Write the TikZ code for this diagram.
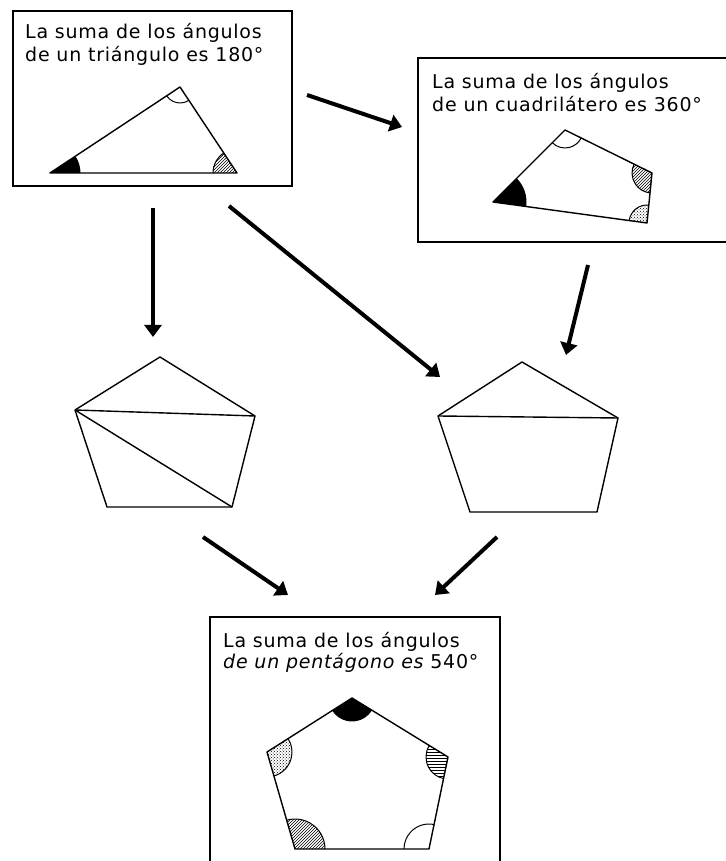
\documentclass[tikz,border=0pt]{standalone}
\usepackage{fontspec}
\setmainfont{DejaVu Sans}[LetterSpace=4]
\usetikzlibrary{shapes,arrows.meta,angles,patterns}

\tikzset{
  boxline/.style={line width=1.6pt},
  poly/.style={line width=1.4pt, line join=round},
  flow/.style={line width=4pt, -{Triangle[length=12pt,width=17pt]}},
  caption/.style={anchor=base west, inner sep=0pt, font=\fontsize{19}{22}\selectfont},
  anglemark/.style={line width=1pt},
}

\begin{document}
\begin{tikzpicture}[x=1pt,y=1pt]
\useasboundingbox (0,0) rectangle (725,861);
% boxes
\draw[boxline] (13,675) rectangle (292,850);
\draw[boxline] (418,619) rectangle (728,803);
\draw[boxline] (210,-9) rectangle (500,244);
\node[caption] (t1a) at (25,822) {La suma de los ángulos};
\node[caption] (t1b) at (25,799) {de un triángulo es 180°};
\node[caption] (t2a) at (432,772) {La suma de los ángulos};
\node[caption] (t2b) at (432,749) {de un cuadrilátero es 360°};
\node[caption] (t3a) at (223,213) {La suma de los ángulos};
\node[caption] (t3b) at (223,192) {{\itshape de un pentágono es} 540°};

% triangle
\coordinate (A) at (50,688);
\coordinate (B) at (180,774);
\coordinate (C) at (237,688);
\pic[anglemark, draw, fill=black, angle radius=30pt] {angle=C--A--B};
\pic[anglemark, draw, angle radius=16pt] {angle=A--B--C};
\pic[anglemark, draw, pattern=north east lines, angle radius=24pt] {angle=B--C--A};
\draw[poly] (A) -- (B) -- (C) -- cycle;

% quadrilateral
\coordinate (P1) at (493,659);
\coordinate (P2) at (565,731);
\coordinate (P3) at (652,688);
\coordinate (P4) at (647,638);
\pic[anglemark, draw, fill=black, angle radius=33pt] {angle=P4--P1--P2};
\pic[anglemark, draw, angle radius=18pt] {angle=P1--P2--P3};
\pic[anglemark, draw, pattern=north east lines, angle radius=20pt] {angle=P2--P3--P4};
\pic[anglemark, draw, pattern=crosshatch dots, angle radius=18pt] {angle=P3--P4--P1};
\draw[poly] (P1) -- (P2) -- (P3) -- (P4) -- cycle;

% pentagon cut in three triangles
\coordinate (la) at (160,504);
\coordinate (lb) at (255,445);
\coordinate (lc) at (232,354);
\coordinate (ld) at (107,354);
\coordinate (le) at (75,451);
\draw[poly] (la) -- (lb) -- (lc) -- (ld) -- (le) -- cycle;
\draw[poly] (le) -- (lb);
\draw[poly] (le) -- (lc);

% pentagon cut in triangle and quadrilateral
\coordinate (ma) at (522,499);
\coordinate (mb) at (618,443);
\coordinate (mc) at (597,349);
\coordinate (md) at (470,349);
\coordinate (me) at (438,445);
\draw[poly] (ma) -- (mb) -- (mc) -- (md) -- (me) -- cycle;
\draw[poly] (me) -- (mb);

% pentagon
\coordinate (q1) at (352,163);
\coordinate (q2) at (448,104);
\coordinate (q3) at (429,12);
\coordinate (q4) at (295,12);
\coordinate (q5) at (267,109);
\pic[anglemark, draw, fill=black, angle radius=23pt] {angle=q5--q1--q2};
\pic[anglemark, draw, pattern=horizontal lines, angle radius=22pt] {angle=q1--q2--q3};
\pic[anglemark, draw, angle radius=25pt] {angle=q2--q3--q4};
\pic[anglemark, draw, pattern=north east lines, angle radius=30pt] {angle=q3--q4--q5};
\pic[anglemark, draw, pattern=crosshatch dots, angle radius=25pt] {angle=q4--q5--q1};
\draw[poly] (q1) -- (q2) -- (q3) -- (q4) -- (q5) -- cycle;

% arrows
\coordinate (s1) at (307,766);  \coordinate (e1) at (402,734);
\coordinate (s2) at (229,655);  \coordinate (e2) at (440,484);
\coordinate (s3) at (153,653);  \coordinate (e3) at (153,524);
\coordinate (s4) at (588,596);  \coordinate (e4) at (566,506);
\coordinate (s5) at (203,324);  \coordinate (e5) at (288,266);
\coordinate (s6) at (497,324);  \coordinate (e6) at (435,266);
\foreach \s/\e in {s1/e1,s2/e2,s3/e3,s4/e4,s5/e5,s6/e6} {
    \draw[flow] (\s) -- (\e);
}
\end{tikzpicture}
\end{document}
